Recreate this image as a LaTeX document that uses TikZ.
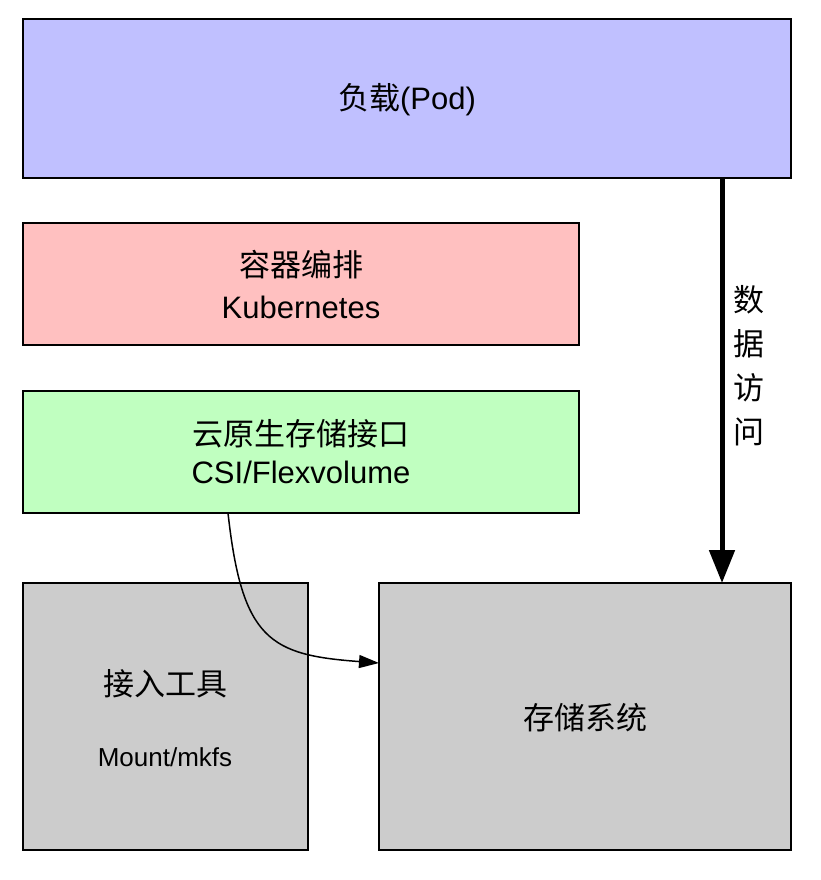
\documentclass[tikz,border=0pt]{standalone}
\usepackage{fontspec}
\setmainfont{Liberation Sans}
\newfontfamily\cjk{Noto Sans CJK SC}
\usetikzlibrary{arrows.meta}
\definecolor{podfill}{RGB}{192,192,255}
\definecolor{k8sfill}{RGB}{255,192,192}
\definecolor{csifill}{RGB}{192,255,192}
\definecolor{grayfill}{RGB}{204,204,204}
\tikzset{
  box/.style={draw=black, line width=2pt, inner sep=0pt, outer sep=0pt, anchor=north west},
  lbl/.style={font=\fontsize{31}{38}\selectfont, inner sep=0pt, anchor=center},
  sml/.style={font=\fontsize{26}{30}\selectfont, inner sep=0pt, anchor=center},
  bigarrow/.style={line width=5pt, -{Triangle[length=33pt,width=25pt]}},
  thinarrow/.style={line width=1.5pt, -{Triangle[length=20pt,width=13pt]}}
}
\begin{document}
\begin{tikzpicture}[x=1pt,y=-1pt]
\useasboundingbox (0,0) rectangle (820,880);
% boxes
\node[box, fill=podfill, minimum width=768pt, minimum height=159pt] (pod) at (23,19) {};
\node[box, fill=k8sfill, minimum width=556pt, minimum height=122pt] (k8s) at (23,223) {};
\node[box, fill=csifill, minimum width=556pt, minimum height=122pt] (csi) at (23,391) {};
\node[box, fill=grayfill, minimum width=285pt, minimum height=267pt] (tool) at (23,583) {};
\node[box, fill=grayfill, minimum width=412pt, minimum height=267pt] (store) at (379,583) {};
% texts
\node[lbl] (podtxt) at (407,100) {{\cjk 负载}(Pod)};
\node[lbl] (k8s1) at (301,265) {\cjk 容器编排};
\node[lbl] (k8s2) at (301,307) {Kubernetes};
\node[lbl] (csi1) at (301,434) {\cjk 云原生存储接口};
\node[lbl] (csi2) at (301,472) {CSI/Flexvolume};
\node[lbl] (tool1) at (165,684) {\cjk 接入工具};
\node[sml] (tool2) at (165,757) {Mount/mkfs};
\node[lbl] (storetxt) at (585,718) {\cjk 存储系统};
\node[font=\fontsize{31}{44}\selectfont, inner sep=0pt, align=center] (access) at (749,366) {\cjk 数\\\cjk 据\\\cjk 访\\\cjk 问};
% connectors
\coordinate (ax) at (722,0);
\draw[bigarrow] (ax |- pod.south) -- (ax |- store.north);
\coordinate (cx) at (228,0);
\coordinate (ey) at (0,663);
\draw[thinarrow] (cx |- csi.south) .. controls (242,640) and (270,655) .. (store.west |- ey);
\end{tikzpicture}
\end{document}
